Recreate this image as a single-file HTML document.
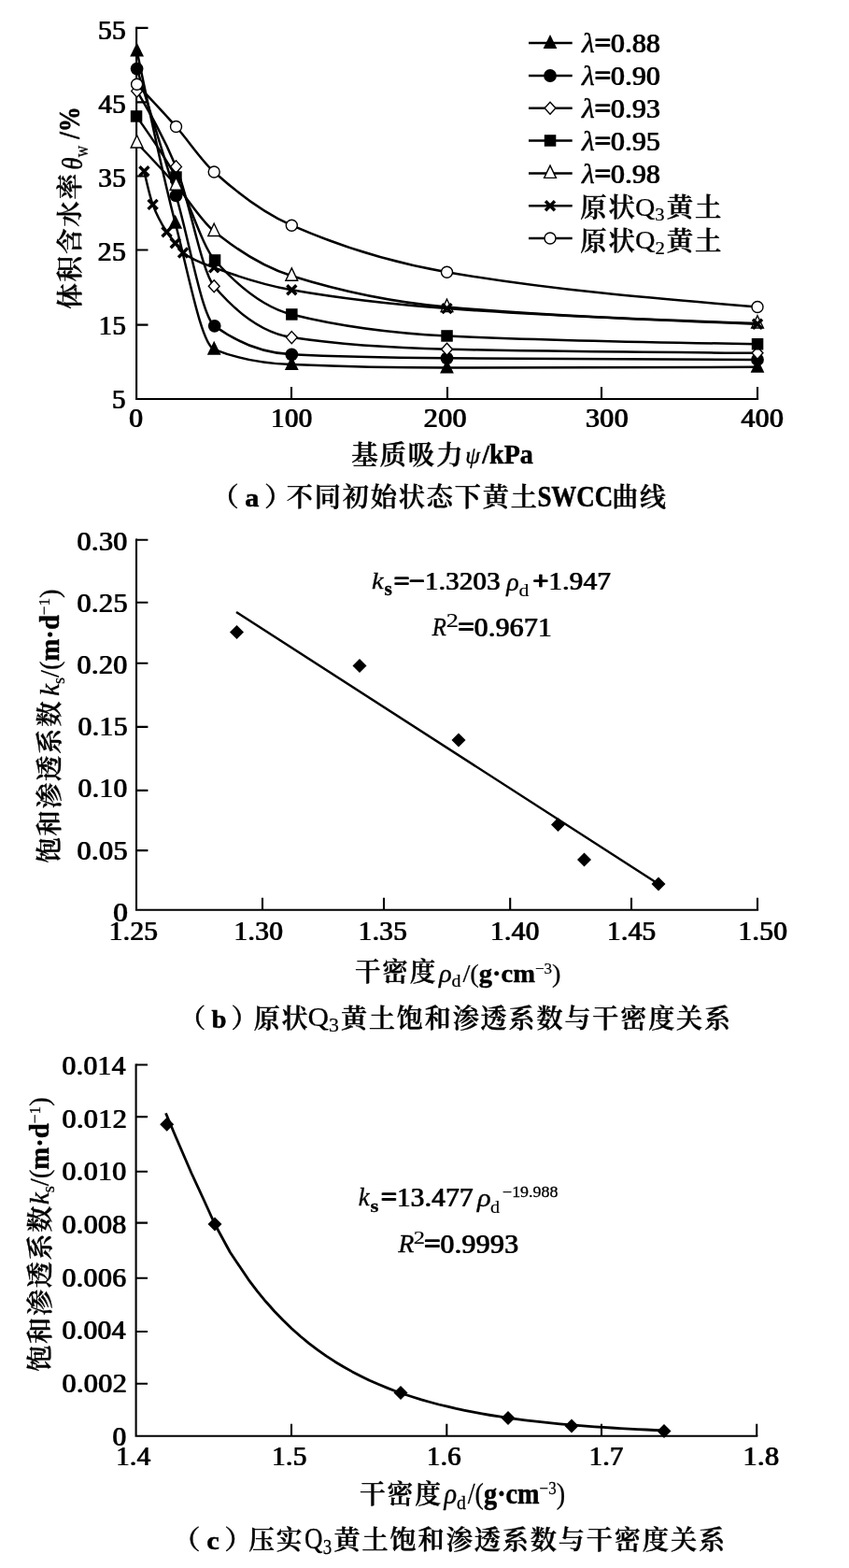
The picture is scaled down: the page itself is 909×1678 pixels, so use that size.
<!DOCTYPE html>
<html lang="zh-CN">
<head>
<meta charset="utf-8">
<title>黄土SWCC曲线与饱和渗透系数</title>
<style>
html,body{margin:0;padding:0;background:#fff;}
body{width:909px;height:1678px;overflow:hidden;}
svg{display:block;font-family:"Liberation Serif", "Noto Serif CJK SC", serif;fill:#000;font-size:30px;}
text{stroke:#000;stroke-linejoin:miter;stroke-miterlimit:3;}
.n,.e{font-weight:normal;stroke-width:0.15px;letter-spacing:0.4px;filter:drop-shadow(1px 0 0 #000);}
.c{font-weight:600;stroke-width:0.4px;font-size:28px;letter-spacing:1.8px;}
.bb{font-weight:bold;stroke-width:0.5px;}
.op{stroke-width:1.1px;}
.r2{font-weight:normal;stroke-width:0.6px;}
.i{font-style:italic;font-weight:normal;stroke-width:0.4px;}
.r{font-weight:normal;font-style:normal;stroke-width:0.25px;}
.ax{stroke:#000;stroke-width:2.1;fill:none;}
.ln{stroke:#000;stroke-width:2.5;fill:none;stroke-linejoin:round;}
</style>
</head>
<body>
<svg width="909" height="1678" viewBox="0 0 909 1678" role="img" aria-label="黄土SWCC曲线及饱和渗透系数与干密度关系">
<rect x="-20" y="-20" width="949" height="1718" fill="#fff"/>
<g id="figure" style="filter:blur(0.45px)">
<rect x="-20" y="-20" width="949" height="1718" fill="#fff"/>


<g id="chart-a">
<path class="ax" d="M146.1 28.8 V427.0 H812.1"/>
<path class="ax" d="M146.1 29.9 h12.4M146.1 109.4 h12.4M146.1 188.5 h12.4M146.1 267.5 h12.4M146.1 347.6 h12.4M312.0 427.0 v-13M479.0 427.0 v-13M644.0 427.0 v-13M811.0 427.0 v-13"/>
<path class="ln" d="M146.6 54.5 C160.3 120.8 174.0 187.2 187.7 238.8 C201.5 291.0 215.4 368.1 229.2 373.8 C256.9 385.1 284.6 388.9 312.3 390.1 C367.7 392.4 423.1 393.6 478.5 393.6 C589.4 393.6 700.2 393.2 811.0 392.8"/>
<path d="M146.6 45.5 l7.4 15 h-14.8 z" fill="#000"/>
<path d="M187.7 229.8 l7.4 15 h-14.8 z" fill="#000"/>
<path d="M229.2 364.8 l7.4 15 h-14.8 z" fill="#000"/>
<path d="M312.3 381.1 l7.4 15 h-14.8 z" fill="#000"/>
<path d="M478.5 384.6 l7.4 15 h-14.8 z" fill="#000"/>
<path d="M811.0 383.8 l7.4 15 h-14.8 z" fill="#000"/>
<path class="ln" d="M146.6 73.6 C160.6 118.4 174.5 163.2 188.5 209.4 C202.2 254.9 216.0 338.7 229.7 348.8 C257.2 368.9 284.8 378.0 312.3 379.3 C367.7 382.1 423.1 382.8 478.5 383.3 C589.4 384.3 700.2 384.6 811.0 384.9"/>
<circle cx="146.6" cy="73.6" r="6.9" fill="#000"/>
<circle cx="188.5" cy="209.4" r="6.9" fill="#000"/>
<circle cx="229.7" cy="348.8" r="6.9" fill="#000"/>
<circle cx="312.3" cy="379.3" r="6.9" fill="#000"/>
<circle cx="478.5" cy="383.3" r="6.9" fill="#000"/>
<circle cx="811.0" cy="384.9" r="6.9" fill="#000"/>
<path class="ln" d="M146.6 97.4 C160.6 121.2 174.5 145.0 188.5 178.4 C202.1 210.9 215.6 290.3 229.2 306.3 C256.9 338.9 284.6 356.9 312.3 361.1 C367.7 369.4 423.1 372.5 478.5 373.8 C589.4 376.3 700.2 377.0 811.0 377.8"/>
<path d="M146.6 90.9 l5.9 6.5 l-5.9 6.5 l-5.9 -6.5 z" fill="#fff" stroke="#000" stroke-width="1.4"/>
<path d="M188.5 171.9 l5.9 6.5 l-5.9 6.5 l-5.9 -6.5 z" fill="#fff" stroke="#000" stroke-width="1.4"/>
<path d="M229.2 299.8 l5.9 6.5 l-5.9 6.5 l-5.9 -6.5 z" fill="#fff" stroke="#000" stroke-width="1.4"/>
<path d="M312.3 354.6 l5.9 6.5 l-5.9 6.5 l-5.9 -6.5 z" fill="#fff" stroke="#000" stroke-width="1.4"/>
<path d="M478.5 367.3 l5.9 6.5 l-5.9 6.5 l-5.9 -6.5 z" fill="#fff" stroke="#000" stroke-width="1.4"/>
<path d="M811.0 371.3 l5.9 6.5 l-5.9 6.5 l-5.9 -6.5 z" fill="#fff" stroke="#000" stroke-width="1.4"/>
<path class="ln" d="M146.1 124.4 C160.2 144.3 174.4 164.2 188.5 189.5 C202.3 214.3 216.2 262.9 230.0 278.5 C257.5 309.3 284.9 329.6 312.3 336.5 C367.7 350.3 423.1 356.8 478.5 359.5 C589.4 364.8 700.2 366.5 811.0 368.2"/>
<rect x="139.8" y="118.2" width="12.5" height="12.5" fill="#000"/>
<rect x="182.2" y="183.3" width="12.5" height="12.5" fill="#000"/>
<rect x="223.8" y="272.2" width="12.5" height="12.5" fill="#000"/>
<rect x="306.1" y="330.2" width="12.5" height="12.5" fill="#000"/>
<rect x="472.3" y="353.2" width="12.5" height="12.5" fill="#000"/>
<rect x="804.8" y="362.0" width="12.5" height="12.5" fill="#000"/>
<path class="ln" d="M146.6 153.0 C160.6 167.7 174.5 182.3 188.5 198.3 C202.1 213.8 215.6 236.5 229.2 247.5 C256.9 270.0 284.6 286.5 312.3 295.2 C367.7 312.6 423.1 323.6 478.5 328.5 C589.4 338.4 700.2 342.2 811.0 346.0"/>
<path d="M146.6 144.7 l6.4 13.3 h-12.8 z" fill="#fff" stroke="#000" stroke-width="1.4"/>
<path d="M188.5 190.0 l6.4 13.3 h-12.8 z" fill="#fff" stroke="#000" stroke-width="1.4"/>
<path d="M229.2 239.2 l6.4 13.3 h-12.8 z" fill="#fff" stroke="#000" stroke-width="1.4"/>
<path d="M312.3 286.9 l6.4 13.3 h-12.8 z" fill="#fff" stroke="#000" stroke-width="1.4"/>
<path d="M478.5 320.2 l6.4 13.3 h-12.8 z" fill="#fff" stroke="#000" stroke-width="1.4"/>
<path d="M811.0 337.7 l6.4 13.3 h-12.8 z" fill="#fff" stroke="#000" stroke-width="1.4"/>
<path class="ln" d="M154.4 183.2 C157.5 197.0 160.5 210.7 163.6 218.9 C168.5 232.3 173.5 240.6 178.5 248.3 C181.6 253.0 184.6 256.3 187.7 260.2 C190.4 263.7 193.2 268.4 196.0 270.5 C207.0 278.9 218.1 282.3 229.2 286.4 C256.9 296.7 284.6 305.4 312.3 310.3 C367.7 320.0 423.1 326.0 478.5 330.1 C589.4 338.3 700.2 342.5 811.0 346.8"/>
<path d="M149.4 178.2 l10 10 M159.4 178.2 l-10 10" stroke="#000" stroke-width="3.4" fill="none"/>
<path d="M158.6 213.9 l10 10 M168.6 213.9 l-10 10" stroke="#000" stroke-width="3.4" fill="none"/>
<path d="M173.5 243.3 l10 10 M183.5 243.3 l-10 10" stroke="#000" stroke-width="3.4" fill="none"/>
<path d="M182.7 255.2 l10 10 M192.7 255.2 l-10 10" stroke="#000" stroke-width="3.4" fill="none"/>
<path d="M191.0 265.5 l10 10 M201.0 265.5 l-10 10" stroke="#000" stroke-width="3.4" fill="none"/>
<path d="M224.2 281.4 l10 10 M234.2 281.4 l-10 10" stroke="#000" stroke-width="3.4" fill="none"/>
<path d="M307.3 305.3 l10 10 M317.3 305.3 l-10 10" stroke="#000" stroke-width="3.4" fill="none"/>
<path d="M473.5 325.1 l10 10 M483.5 325.1 l-10 10" stroke="#000" stroke-width="3.4" fill="none"/>
<path d="M806.0 341.8 l10 10 M816.0 341.8 l-10 10" stroke="#000" stroke-width="3.4" fill="none"/>
<path class="ln" d="M146.6 90.3 C160.6 105.0 174.5 119.7 188.5 135.5 C202.1 150.9 215.6 171.8 229.2 184.0 C256.9 208.9 284.6 229.0 312.3 241.2 C367.7 265.4 423.1 281.6 478.5 291.2 C589.4 310.3 700.2 319.4 811.0 328.5"/>
<circle cx="146.6" cy="90.3" r="6" fill="#fff" stroke="#000" stroke-width="1.4"/>
<circle cx="188.5" cy="135.5" r="6" fill="#fff" stroke="#000" stroke-width="1.4"/>
<circle cx="229.2" cy="184.0" r="6" fill="#fff" stroke="#000" stroke-width="1.4"/>
<circle cx="312.3" cy="241.2" r="6" fill="#fff" stroke="#000" stroke-width="1.4"/>
<circle cx="478.5" cy="291.2" r="6" fill="#fff" stroke="#000" stroke-width="1.4"/>
<circle cx="811.0" cy="328.5" r="6" fill="#fff" stroke="#000" stroke-width="1.4"/>
<path class="ln" d="M566 46.1 H612.7"/>
<path d="M589.0 37.1 l7.4 15 h-14.8 z" fill="#000"/>
<path class="ln" d="M566 81.0 H612.7"/>
<circle cx="589.0" cy="81.0" r="6.9" fill="#000"/>
<path class="ln" d="M566 115.7 H612.7"/>
<path d="M589.0 109.2 l5.9 6.5 l-5.9 6.5 l-5.9 -6.5 z" fill="#fff" stroke="#000" stroke-width="1.4"/>
<path class="ln" d="M566 150.5 H612.7"/>
<rect x="582.8" y="144.2" width="12.5" height="12.5" fill="#000"/>
<path class="ln" d="M566 185.4 H612.7"/>
<path d="M589.0 177.1 l6.4 13.3 h-12.8 z" fill="#fff" stroke="#000" stroke-width="1.4"/>
<path class="ln" d="M566 220.3 H612.7"/>
<path d="M584.0 215.3 l10 10 M594.0 215.3 l-10 10" stroke="#000" stroke-width="3.4" fill="none"/>
<path class="ln" d="M566 255.0 H612.7"/>
<circle cx="589.0" cy="255.0" r="6" fill="#fff" stroke="#000" stroke-width="1.4"/>
</g>
<g id="chart-b">
<path class="ax" d="M146.0 576.6 V973.7 H812.1"/>
<path class="ax" d="M146.0 577.7 h12.4M146.0 644.7 h12.4M146.0 709.7 h12.4M146.0 777.9 h12.4M146.0 845.9 h12.4M146.0 910.1 h12.4M281.0 973.7 v-13M411.0 973.7 v-13M546.2 973.7 v-13M676.0 973.7 v-13M811.0 973.7 v-13"/>
<path class="ln" d="M253 655 L705 946"/>
<path d="M253.5 669.0 l7.5 7.5 l-7.5 7.5 l-7.5 -7.5 z" fill="#000"/>
<path d="M385.0 705.0 l7.5 7.5 l-7.5 7.5 l-7.5 -7.5 z" fill="#000"/>
<path d="M491.0 784.5 l7.5 7.5 l-7.5 7.5 l-7.5 -7.5 z" fill="#000"/>
<path d="M597.5 875.0 l7.5 7.5 l-7.5 7.5 l-7.5 -7.5 z" fill="#000"/>
<path d="M625.5 912.5 l7.5 7.5 l-7.5 7.5 l-7.5 -7.5 z" fill="#000"/>
<path d="M705.0 938.5 l7.5 7.5 l-7.5 7.5 l-7.5 -7.5 z" fill="#000"/>
</g>
<g id="chart-c">
<path class="ax" d="M145.6 1138.4 V1536.8 H811.3"/>
<path class="ax" d="M145.6 1139.5 h12.4M145.6 1195.1 h12.4M145.6 1253.7 h12.4M145.6 1308.6 h12.4M145.6 1367.7 h12.4M145.6 1425.0 h12.4M145.6 1480.8 h12.4M312.0 1536.8 v-13M478.3 1536.8 v-13M644.0 1536.8 v-13M810.2 1536.8 v-13"/>
<path class="ln" style="stroke-width:2.8" d="M177.5 1191.2 L187.5 1215.0 L205.0 1255.5 L217.5 1282.5 L230.0 1310.0 L246.3 1340.0 L266.0 1369.3 L275.3 1381.6 L284.5 1392.8 L293.8 1403.2 L303.0 1412.8 L312.3 1421.7 L321.6 1430.0 L330.8 1437.6 L340.1 1444.6 L349.3 1451.1 L358.6 1457.2 L367.9 1462.7 L377.1 1467.9 L386.4 1472.7 L395.6 1477.2 L404.9 1481.3 L414.2 1485.1 L423.4 1488.7 L432.7 1492.0 L442.0 1495.0 L451.2 1497.9 L460.5 1500.5 L469.7 1503.0 L479.0 1505.2 L488.3 1507.4 L497.5 1509.3 L506.8 1511.2 L516.0 1512.9 L525.3 1514.5 L534.6 1515.9 L543.8 1517.3 L553.1 1518.6 L562.3 1519.8 L571.6 1520.9 L580.9 1521.9 L590.1 1522.9 L599.4 1523.8 L608.6 1524.6 L617.9 1525.4 L627.2 1526.1 L636.4 1526.8 L645.7 1527.4 L654.9 1528.0 L664.2 1528.6 L673.5 1529.1 L682.7 1529.6 L692.0 1530.0 L701.2 1530.5 L710.5 1530.9"/>
<path d="M178.7 1195.7 l7.5 7.5 l-7.5 7.5 l-7.5 -7.5 z" fill="#000"/>
<path d="M230.0 1302.5 l7.5 7.5 l-7.5 7.5 l-7.5 -7.5 z" fill="#000"/>
<path d="M429.0 1483.0 l7.5 7.5 l-7.5 7.5 l-7.5 -7.5 z" fill="#000"/>
<path d="M544.0 1510.0 l7.5 7.5 l-7.5 7.5 l-7.5 -7.5 z" fill="#000"/>
<path d="M612.0 1518.5 l7.5 7.5 l-7.5 7.5 l-7.5 -7.5 z" fill="#000"/>
<path d="M711.0 1524.0 l7.5 7.5 l-7.5 7.5 l-7.5 -7.5 z" fill="#000"/>
</g>
<g id="labels">
<text class="n" transform="matrix(0.9789 0 0 0.9975 104.49 41.70)">55</text>
<text class="n" transform="matrix(0.9613 0 0 0.9975 105.02 120.76)">45</text>
<text class="n" transform="matrix(0.9690 0 0 0.9854 104.79 199.83)">35</text>
<text class="n" transform="matrix(0.9862 0 0 0.9854 104.27 278.89)">25</text>
<text class="n" transform="matrix(0.9514 0 0 0.9854 105.32 357.95)">15</text>
<text class="n" transform="matrix(0.9660 0 0 0.9975 119.61 437.00)">5</text>
<text class="n" transform="matrix(0.9821 0 0 0.9756 137.77 456.51)">0</text>
<text class="n" transform="matrix(0.9653 0 0 0.9756 289.59 456.51)">100</text>
<text class="n" transform="matrix(1.0000 0 0 0.9756 453.25 456.51)">200</text>
<text class="n" transform="matrix(0.9944 0 0 0.9756 626.51 456.51)">300</text>
<text class="n" transform="matrix(0.9878 0 0 0.9756 793.01 456.51)">400</text>
<text class="i" transform="matrix(1.0593 0 0 0.9721 623.06 56.06)">λ</text>
<text class="n" transform="matrix(0.9843 0 0 0.9659 636.42 55.82)"><tspan class="op">=</tspan>0.88</text>
<text class="i" transform="matrix(1.0593 0 0 0.9721 623.06 91.01)">λ</text>
<text class="n" transform="matrix(0.9843 0 0 0.9659 636.42 90.77)"><tspan class="op">=</tspan>0.90</text>
<text class="i" transform="matrix(1.0593 0 0 0.9721 623.06 125.96)">λ</text>
<text class="n" transform="matrix(0.9843 0 0 0.9659 636.42 125.72)"><tspan class="op">=</tspan>0.93</text>
<text class="i" transform="matrix(1.0593 0 0 0.9721 623.06 160.91)">λ</text>
<text class="n" transform="matrix(0.9843 0 0 0.9659 636.42 160.67)"><tspan class="op">=</tspan>0.95</text>
<text class="i" transform="matrix(1.0593 0 0 0.9721 623.06 195.86)">λ</text>
<text class="n" transform="matrix(0.9843 0 0 0.9659 636.42 195.62)"><tspan class="op">=</tspan>0.98</text>
<text class="c" transform="matrix(1.0124 0 0 1.0000 621.24 232.38)">原状</text>
<text class="r" transform="matrix(0.9836 0 0 0.9219 680.02 230.94)">Q<tspan font-size="21" dy="6">3</tspan></text>
<text class="c" transform="matrix(1.0169 0 0 1.0000 713.64 232.38)">黄土</text>
<text class="c" transform="matrix(1.0124 0 0 1.0000 621.24 267.57)">原状</text>
<text class="r" transform="matrix(0.9917 0 0 0.9308 680.01 266.32)">Q<tspan font-size="21" dy="6">2</tspan></text>
<text class="c" transform="matrix(1.0169 0 0 1.0000 713.64 267.57)">黄土</text>
<text class="c" transform="matrix(1.0175 0 0 1.0000 376.24 496.62)">基质吸力</text>
<text class="i" transform="matrix(0.8451 0 0 0.8081 498.23 496.00)">ψ</text>
<text class="bb" transform="matrix(0.9362 0 0 0.9651 516.22 495.77)">/kPa</text>
<text class="c" transform="matrix(1.0833 0 0 1.0000 225.50 541.88)"><tspan style="letter-spacing:6px">（</tspan><tspan class="bb" style="letter-spacing:5px">a</tspan>）</text>
<text class="c" transform="matrix(1.0077 0 0 1.0000 306.74 542.00)">不同初始状态下黄土</text>
<text class="bb" transform="matrix(0.8991 0 0 1.0241 575.38 541.73)">SWCC</text>
<text class="c" transform="matrix(1.0009 0 0 1.0000 655.25 541.75)">曲线</text>
<text class="c" transform="matrix(1.0000 0 0 0.9856 85.28 330.79) rotate(-90)">体积含水率</text>
<text class="i" transform="matrix(1.0836 0 0 0.9028 87.63 181.63) rotate(-90)">θ<tspan class="r" font-size="19" dy="6">w</tspan></text>
<text class="bb" transform="matrix(1.0286 0 0 0.9048 85.43 148.75) rotate(-90)">/%</text>
<text class="n" transform="matrix(1.0009 0 0 0.9951 82.10 588.50)">0.30</text>
<text class="n" transform="matrix(1.0057 0 0 0.9951 82.09 654.70)">0.25</text>
<text class="n" transform="matrix(1.0009 0 0 0.9951 82.10 720.90)">0.20</text>
<text class="n" transform="matrix(0.9867 0 0 0.9951 83.11 787.10)">0.15</text>
<text class="n" transform="matrix(0.9820 0 0 0.9951 83.12 853.30)">0.10</text>
<text class="n" transform="matrix(1.0057 0 0 0.9951 82.09 919.50)">0.05</text>
<text class="n" transform="matrix(1.0357 0 0 0.9854 120.76 985.71)">0</text>
<text class="n" transform="matrix(0.9706 0 0 1.0098 116.32 1006.40)">1.25</text>
<text class="n" transform="matrix(0.9756 0 0 1.0098 250.06 1006.40)">1.30</text>
<text class="n" transform="matrix(0.9657 0 0 1.0098 383.34 1006.40)">1.35</text>
<text class="n" transform="matrix(0.9756 0 0 1.0098 524.56 1006.40)">1.40</text>
<text class="n" transform="matrix(0.9706 0 0 1.0098 649.57 1006.40)">1.45</text>
<text class="n" transform="matrix(0.9776 0 0 1.0098 789.96 1006.40)">1.50</text>
<text class="i" transform="matrix(0.9434 0 0 0.8706 398.04 630.28)">k</text>
<text class="bb" transform="matrix(0.7143 0 0 0.6780 411.46 637.16)">s</text>
<text class="n" transform="matrix(0.9534 0 0 0.9390 421.55 630.78)"><tspan class="op">=−</tspan>1.3203</text>
<text class="i" transform="matrix(0.9322 0 0 0.9036 542.18 631.63)">ρ</text>
<text class="r" transform="matrix(0.7273 0 0 0.6395 555.52 638.43)">d</text>
<text class="n" transform="matrix(0.9621 0 0 0.9390 570.29 630.78)"><tspan class="op">+</tspan>1.947</text>
<text class="i" transform="matrix(0.8219 0 0 0.9250 462.71 680.27)">R</text>
<text class="r" transform="matrix(0.8776 0 0 0.6750 477.65 670.50)">2</text>
<text class="n" transform="matrix(0.9825 0 0 0.9512 490.27 680.52)"><tspan class="op">=</tspan>0.9671</text>
<text class="c" transform="matrix(0.9855 0 0 1.0000 380.01 1050.38)">干密度</text>
<text class="bb" transform="matrix(0.9491 0 0 0.9217 469.95 1050.78)"><tspan class="i">ρ</tspan><tspan class="r" font-size="21" dy="6">d</tspan><tspan class="r" dy="-6" dx="2">/(</tspan>g·cm<tspan class="r" font-size="18" dy="-10">−3</tspan><tspan class="r" dy="10">)</tspan></text>
<text class="c" transform="matrix(1.0267 0 0 1.0000 191.52 1100.25)"><tspan style="letter-spacing:6px">（</tspan><tspan class="bb" style="letter-spacing:5px">b</tspan>）</text>
<text class="c" transform="matrix(1.0000 0 0 1.0000 271.75 1100.25)">原状</text>
<text class="r" transform="matrix(1.0393 0 0 0.9790 329.56 1098.48)">Q<tspan font-size="21" dy="6">3</tspan></text>
<text class="c" transform="matrix(1.0048 0 0 1.0000 365.00 1100.25)">黄土饱和渗透系数与干密度关系</text>
<text class="c" transform="matrix(1.0000 0 0 0.9778 62.83 923.53) rotate(-90)">饱和渗透系数</text>
<text class="bb" transform="matrix(0.9860 0 0 0.9542 62.59 744.72) rotate(-90)"><tspan class="i">k</tspan><tspan class="r" font-size="19" dy="6">s</tspan><tspan class="r" dy="-6">/(</tspan>m·d<tspan class="r" font-size="18" dy="-10">−1</tspan><tspan class="r" dy="10">)</tspan></text>
<text class="n" transform="matrix(0.9847 0 0 0.9902 66.02 1150.00)">0.014</text>
<text class="n" transform="matrix(1.0030 0 0 0.9902 66.00 1206.66)">0.012</text>
<text class="n" transform="matrix(0.9956 0 0 0.9902 66.00 1263.32)">0.010</text>
<text class="n" transform="matrix(0.9956 0 0 0.9902 66.00 1319.98)">0.008</text>
<text class="n" transform="matrix(0.9919 0 0 0.9902 66.01 1376.64)">0.006</text>
<text class="n" transform="matrix(0.9847 0 0 0.9902 66.02 1433.30)">0.004</text>
<text class="n" transform="matrix(1.0030 0 0 0.9902 66.00 1489.96)">0.002</text>
<text class="n" transform="matrix(0.9786 0 0 0.9659 120.02 1546.62)">0</text>
<text class="n" transform="matrix(0.9589 0 0 0.9756 123.85 1567.51)">1.4</text>
<text class="n" transform="matrix(0.9790 0 0 0.9756 290.55 1567.51)">1.5</text>
<text class="n" transform="matrix(0.9514 0 0 0.9756 456.62 1567.51)">1.6</text>
<text class="n" transform="matrix(0.9514 0 0 0.9756 630.37 1567.51)">1.7</text>
<text class="n" transform="matrix(1.0070 0 0 0.9756 794.98 1567.51)">1.8</text>
<text class="i" transform="matrix(0.8868 0 0 0.8824 383.83 1289.78)">k</text>
<text class="bb" transform="matrix(0.7619 0 0 0.6441 396.43 1296.68)">s</text>
<text class="n" transform="matrix(0.9653 0 0 0.9756 407.78 1290.76)"><tspan class="op">=</tspan>13.477</text>
<text class="i" transform="matrix(1.0169 0 0 0.9157 511.02 1291.05)">ρ</text>
<text class="r" transform="matrix(0.6727 0 0 0.6628 525.08 1298.42)">d</text>
<text class="r2" transform="matrix(0.5990 0 0 0.5357 538.00 1280.85)">−19.988</text>
<text class="i" transform="matrix(0.9178 0 0 0.9000 426.48 1340.28)">R</text>
<text class="r" transform="matrix(0.8163 0 0 0.6500 442.73 1330.50)">2</text>
<text class="n" transform="matrix(0.9876 0 0 0.9756 454.01 1340.76)"><tspan class="op">=</tspan>0.9993</text>
<text class="c" transform="matrix(0.9942 0 0 1.0000 385.00 1609.00)">干密度</text>
<text class="bb" transform="matrix(0.9418 0 0 1.0174 475.44 1609.38)"><tspan class="i">ρ</tspan><tspan class="r" font-size="21" dy="6">d</tspan><tspan class="r" dy="-6" dx="2">/(</tspan>g·cm<tspan class="r" font-size="18" dy="-10">−3</tspan><tspan class="r" dy="10">)</tspan></text>
<text class="c" transform="matrix(1.0920 0 0 1.0000 184.09 1658.12)"><tspan style="letter-spacing:6px">（</tspan><tspan class="bb" style="letter-spacing:5px">c</tspan>）</text>
<text class="c" transform="matrix(0.9867 0 0 1.0000 266.26 1658.12)">压实</text>
<text class="r" transform="matrix(0.9016 0 0 1.0762 326.10 1657.02)">Q<tspan font-size="21" dy="6">3</tspan></text>
<text class="c" transform="matrix(1.0079 0 0 1.0000 357.49 1658.12)">黄土饱和渗透系数与干密度关系</text>
<text class="c" transform="matrix(1.0000 0 0 1.0011 52.92 1467.75) rotate(-90)">饱和渗透系数</text>
<text class="bb" transform="matrix(0.9860 0 0 0.9576 52.39 1289.02) rotate(-90)"><tspan class="i">k</tspan><tspan class="r" font-size="19" dy="6">s</tspan><tspan class="r" dy="-6">/(</tspan>m·d<tspan class="r" font-size="18" dy="-10">−1</tspan><tspan class="r" dy="10">)</tspan></text>
</g>
</g>
</svg>
</body>
</html>
